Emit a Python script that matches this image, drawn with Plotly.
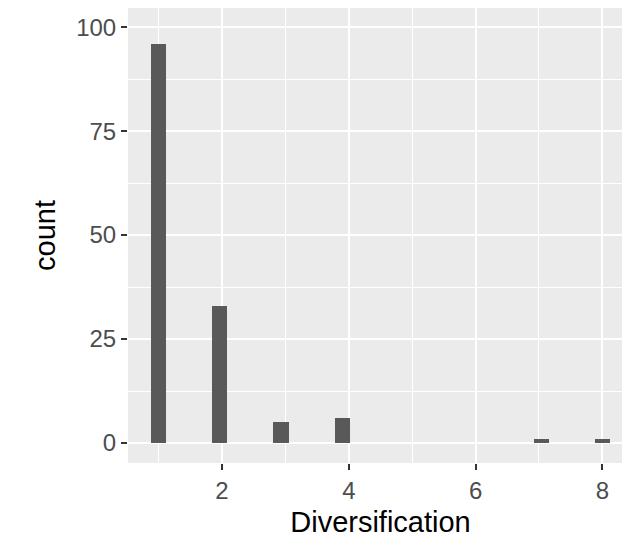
import plotly.graph_objects as go

values = [1, 2, 3, 4, 7, 8]
counts = [96, 33, 5, 6, 1, 1]
x_ticks = [2, 4, 6, 8]
y_ticks = [0, 25, 50, 75, 100]

bw = 7 / 29
fig = go.Figure(go.Histogram(
    x=values, y=counts, histfunc="sum",
    xbins=dict(start=1 - bw / 2, end=8 + bw / 2, size=bw),
    marker=dict(color="#595959", line=dict(width=0)),
))
axis_common = dict(
    showgrid=True, gridcolor="white", gridwidth=2.2, automargin=False,
    ticks="outside", ticklen=6, tickwidth=1.5, tickcolor="#333333",
    tickfont=dict(family="Liberation Sans, Arial", size=24, color="#4D4D4D"),
    zeroline=False, showline=False,
)
fig.update_xaxes(range=[0.517, 8.483], tickvals=x_ticks,
                 minor=dict(tickvals=[1, 3, 5, 7], showgrid=True, gridcolor="white", gridwidth=1),
                 title=dict(text="Diversification", font=dict(family="Liberation Sans, Arial", size=29, color="black"), standoff=8),
                 **axis_common)
fig.update_yaxes(range=[-4.8, 104.6], tickvals=y_ticks,
                 minor=dict(tickvals=[12.5, 37.5, 62.5, 87.5], showgrid=True, gridcolor="white", gridwidth=1),
                 title=dict(text="count", font=dict(family="Liberation Sans, Arial", size=29, color="black"), standoff=12),
                 **axis_common)
fig.update_layout(
    width=630, height=558, margin=dict(l=120, r=5, t=0, b=103),
    plot_bgcolor="#EBEBEB", paper_bgcolor="white", bargap=0.0, showlegend=False,
)
fig.write_html("out.html")
